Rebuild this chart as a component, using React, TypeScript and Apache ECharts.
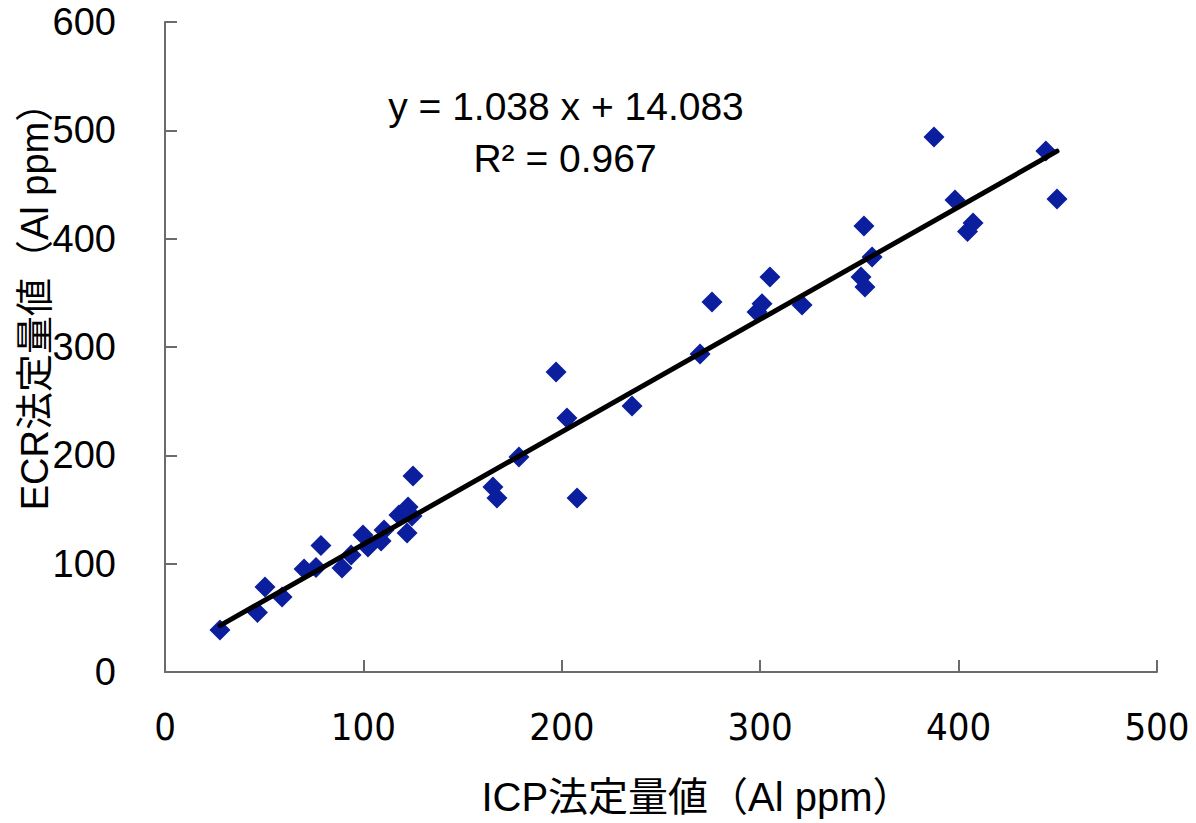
import React, { useEffect, useRef } from "react";
import * as echarts from "echarts";

// ICP (x) vs ECR (y) measured values, Al ppm
const icpValues = [
  27.7, 46.6, 50.4, 59.0, 70.1, 76.1, 78.6, 89.2, 93.8, 99.8, 102.3, 108.9, 110.4, 117.9,
  122.0, 122.5, 124.5, 125.0, 165.3, 167.3, 178.4, 197.1, 202.6, 207.7, 235.4, 269.7,
  275.7, 298.4, 300.9, 304.9, 321.1, 350.8, 352.3, 352.8, 356.4, 387.6, 398.2, 404.5,
  407.3, 444.0, 449.6,
];
const ecrValues = [
  38.8, 54.9, 78.5, 69.2, 95.1, 96.5, 116.8, 96.0, 108.0, 126.5, 115.4, 120.9, 131.1, 144.9,
  128.3, 152.3, 144.0, 180.9, 170.8, 160.6, 198.5, 276.9, 234.5, 160.6, 245.5, 293.5,
  341.5, 332.4, 340.0, 364.6, 338.8, 364.6, 411.7, 355.4, 383.1, 493.9, 435.7, 406.6,
  414.5, 480.9, 436.6,
];
const slope = 1.038;
const intercept = 14.083;
const rSquared = 0.967;
const xTicks = [0, 100, 200, 300, 400, 500];
const yTicks = [0, 100, 200, 300, 400, 500, 600];
const xTitle = "ICP法定量値（Al ppm）";
const yTitle = "ECR法定量値（Al ppm）";

export default function App() {
  const ref = useRef<HTMLDivElement>(null);
  useEffect(() => {
    if (!ref.current) return;
    const chart = echarts.init(ref.current, undefined, { renderer: "svg" });
    const points = icpValues.map((x, i) => [x, ecrValues[i]]);
    const xMin = Math.min(...icpValues);
    const xMax = Math.max(...icpValues);
    const trend = [
      [xMin, slope * xMin + intercept],
      [xMax, slope * xMax + intercept],
    ];
    const axisColor = "#6b6b6b";
    chart.setOption({
      animation: false,
      backgroundColor: "#ffffff",
      grid: { left: 165, right: 39, top: 22, bottom: 151, containLabel: false },
      xAxis: {
        type: "value",
        min: xTicks[0],
        max: xTicks[xTicks.length - 1],
        interval: 100,
        splitLine: { show: false },
        axisLine: { show: true, onZero: false, lineStyle: { color: axisColor, width: 2 } },
        axisTick: { show: true, inside: true, length: 12, lineStyle: { color: axisColor, width: 2 } },
        axisLabel: {
          margin: 36,
          fontSize: 38,
          color: "#000",
          fontFamily: "'Liberation Sans Narrow', 'DejaVu Sans Condensed', 'Liberation Sans', sans-serif",
        },
      },
      yAxis: {
        type: "value",
        min: yTicks[0],
        max: yTicks[yTicks.length - 1],
        interval: 100,
        splitLine: { show: false },
        axisLine: { show: true, onZero: false, lineStyle: { color: axisColor, width: 2 } },
        axisTick: { show: true, inside: true, length: 12, lineStyle: { color: axisColor, width: 2 } },
        axisLabel: {
          margin: 49,
          fontSize: 38,
          color: "#000",
          fontFamily: "'Liberation Sans', Arial, sans-serif",
        },
      },
      series: [
        {
          type: "scatter",
          data: points,
          symbol: "diamond",
          symbolSize: 21,
          itemStyle: { color: "#0A1E9E", opacity: 1 },
          z: 2,
        },
        {
          type: "line",
          data: trend,
          showSymbol: false,
          symbol: "none",
          lineStyle: { color: "#000", width: 5, cap: "round" },
          z: 3,
        },
      ],
      graphic: [
        {
          type: "text",
          x: 566,
          y: 106,
          style: {
            text: `y = ${slope.toFixed(3)} x + ${intercept.toFixed(3)}`,
            fontSize: 39,
            fontFamily: "'Liberation Sans', Arial, sans-serif",
            fill: "#000",
            textAlign: "center",
            textVerticalAlign: "middle",
          },
        },
        {
          type: "text",
          x: 565,
          y: 158,
          style: {
            text: `R² = ${rSquared.toFixed(3)}`,
            fontSize: 39,
            fontFamily: "'Liberation Sans', Arial, sans-serif",
            fill: "#000",
            textAlign: "center",
            textVerticalAlign: "middle",
          },
        },
        {
          type: "text",
          x: 697,
          y: 797,
          style: {
            text: xTitle,
            fontSize: 40,
            fontFamily: "'Liberation Sans', 'Noto Sans CJK JP', sans-serif",
            fill: "#000",
            textAlign: "center",
            textVerticalAlign: "middle",
          },
        },
        {
          type: "text",
          x: 35,
          y: 297,
          rotation: Math.PI / 2,
          style: {
            text: yTitle,
            fontSize: 38,
            fontFamily: "'Liberation Sans', 'Noto Sans CJK JP', sans-serif",
            fill: "#000",
            textAlign: "center",
            textVerticalAlign: "middle",
          },
        },
      ],
    });
    return () => chart.dispose();
  }, []);
  return (
    <div
      ref={ref}
      style={{ position: "fixed", left: 0, top: 0, width: 1196, height: 823, background: "#fff" }}
    />
  );
}
